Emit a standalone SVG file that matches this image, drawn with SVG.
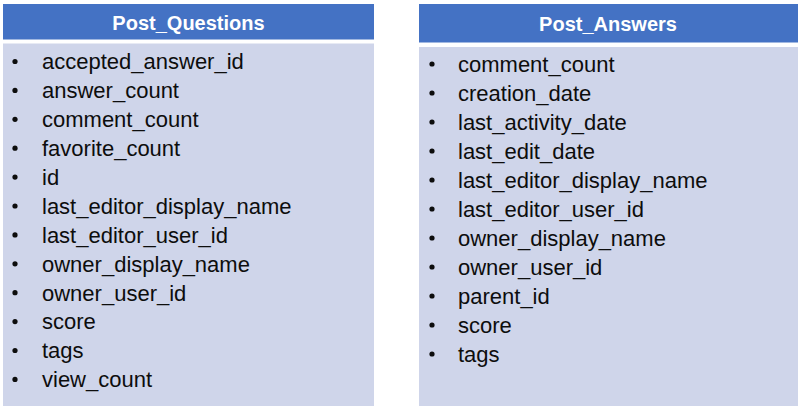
<svg xmlns="http://www.w3.org/2000/svg" width="800" height="409" viewBox="0 0 800 409">
<style>
.hdr{fill:#4472C4}
.body{fill:#CFD5EA}
.title{font-family:"Liberation Sans",Arial,sans-serif;font-weight:bold;font-size:20px;fill:#ffffff;text-anchor:middle}
.item{font-family:"Liberation Sans",Arial,sans-serif;font-size:22px;fill:#0d0d0d}
.dot{fill:#0d0d0d}
</style>
<rect width="800" height="409" fill="#ffffff"/>
<g id="post_questions">
<rect class="hdr" x="3" y="4" width="371" height="35.5"/>
<rect class="body" x="3" y="43.5" width="371" height="362.5"/>
<text class="title" x="188.5" y="30">Post_Questions</text>
<g class="dot">
<circle cx="15" cy="61.5" r="2.6"/>
<circle cx="15" cy="90.4" r="2.6"/>
<circle cx="15" cy="119.3" r="2.6"/>
<circle cx="15" cy="148.2" r="2.6"/>
<circle cx="15" cy="177.1" r="2.6"/>
<circle cx="15" cy="206" r="2.6"/>
<circle cx="15" cy="234.9" r="2.6"/>
<circle cx="15" cy="263.8" r="2.6"/>
<circle cx="15" cy="292.7" r="2.6"/>
<circle cx="15" cy="321.6" r="2.6"/>
<circle cx="15" cy="350.5" r="2.6"/>
<circle cx="15" cy="379.4" r="2.6"/>
</g>
<text class="item" x="42" y="69.3">accepted_answer_id</text>
<text class="item" x="42" y="98.2">answer_count</text>
<text class="item" x="42" y="127.1">comment_count</text>
<text class="item" x="42" y="156">favorite_count</text>
<text class="item" x="42" y="184.9">id</text>
<text class="item" x="42" y="213.8">last_editor_display_name</text>
<text class="item" x="42" y="242.7">last_editor_user_id</text>
<text class="item" x="42" y="271.6">owner_display_name</text>
<text class="item" x="42" y="300.5">owner_user_id</text>
<text class="item" x="42" y="329.4">score</text>
<text class="item" x="42" y="358.3">tags</text>
<text class="item" x="42" y="387.2">view_count</text>
</g>
<g id="post_answers">
<rect class="hdr" x="419" y="4" width="379" height="38.5"/>
<rect class="body" x="419" y="47" width="379" height="359"/>
<text class="title" x="608" y="30.7">Post_Answers</text>
<g class="dot">
<circle cx="432" cy="64" r="2.6"/>
<circle cx="432" cy="93" r="2.6"/>
<circle cx="432" cy="122" r="2.6"/>
<circle cx="432" cy="151" r="2.6"/>
<circle cx="432" cy="180" r="2.6"/>
<circle cx="432" cy="209" r="2.6"/>
<circle cx="432" cy="238" r="2.6"/>
<circle cx="432" cy="267" r="2.6"/>
<circle cx="432" cy="296" r="2.6"/>
<circle cx="432" cy="325" r="2.6"/>
<circle cx="432" cy="354" r="2.6"/>
</g>
<text class="item" x="458" y="71.7">comment_count</text>
<text class="item" x="458" y="100.7">creation_date</text>
<text class="item" x="458" y="129.7">last_activity_date</text>
<text class="item" x="458" y="158.7">last_edit_date</text>
<text class="item" x="458" y="187.7">last_editor_display_name</text>
<text class="item" x="458" y="216.7">last_editor_user_id</text>
<text class="item" x="458" y="245.7">owner_display_name</text>
<text class="item" x="458" y="274.7">owner_user_id</text>
<text class="item" x="458" y="303.7">parent_id</text>
<text class="item" x="458" y="332.7">score</text>
<text class="item" x="458" y="361.7">tags</text>
</g>
<g id="connectors"></g>
</svg>
